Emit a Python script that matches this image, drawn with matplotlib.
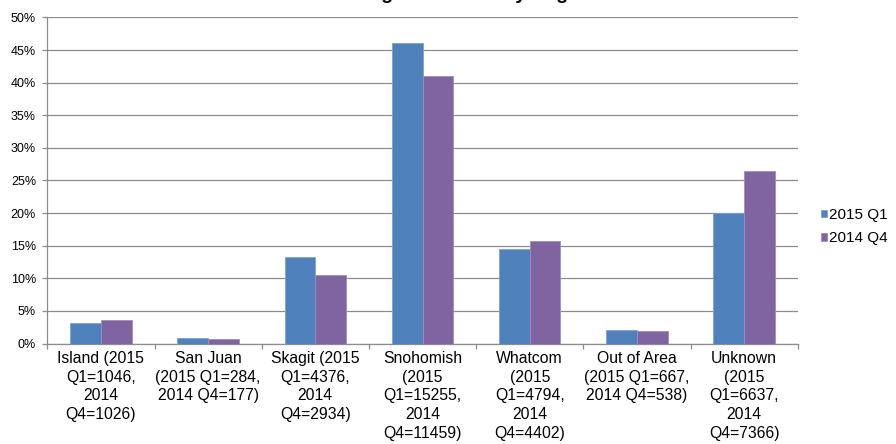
import matplotlib
matplotlib.use("Agg")
import matplotlib.pyplot as plt
import numpy as np
from matplotlib.ticker import FuncFormatter, MultipleLocator

plt.rcParams['font.family'] = ['Liberation Sans', 'DejaVu Sans']

title = "Percentage of Clients by Region"
categories = [
    "Island (2015\nQ1=1046,\n2014\nQ4=1026)",
    "San Juan\n(2015 Q1=284,\n2014 Q4=177)",
    "Skagit (2015\nQ1=4376,\n2014\nQ4=2934)",
    "Snohomish\n(2015\nQ1=15255,\n2014\nQ4=11459)",
    "Whatcom\n(2015\nQ1=4794,\n2014\nQ4=4402)",
    "Out of Area\n(2015 Q1=667,\n2014 Q4=538)",
    "Unknown\n(2015\nQ1=6637,\n2014\nQ4=7366)",
]
series_names = ["2015 Q1", "2014 Q4"]
q1_2015 = [3.16, 0.86, 13.24, 46.14, 14.50, 2.02, 20.08]
q4_2014 = [3.68, 0.63, 10.52, 41.07, 15.78, 1.93, 26.40]
colors = ["#4F81BD", "#8064A2"]

W, H = 896, 444
fig = plt.figure(figsize=(W / 100, H / 100), dpi=100)
ax = fig.add_axes([47.3 / W, 1 - 343.5 / H, (797.7 - 47.3) / W, (343.5 - 17.5) / H])

x = np.arange(len(categories))
bw = 0.286
ax.bar(x - bw / 2, q1_2015, width=bw, color=colors[0], edgecolor="#7FA3D3", linewidth=0.6,
       label=series_names[0], zorder=3)
ax.bar(x + bw / 2, q4_2014, width=bw, color=colors[1], edgecolor="#A08BC0", linewidth=0.6,
       label=series_names[1], zorder=3)

ax.set_xlim(-0.5, len(categories) - 0.5)
ax.set_ylim(0, 50)
ax.yaxis.set_major_locator(MultipleLocator(5))
ax.yaxis.set_major_formatter(FuncFormatter(lambda v, p: f"{v:.0f}%"))
ax.grid(axis="y", color="#8c8c8c", linewidth=0.9, zorder=0)
ax.set_axisbelow(True)

for s in ["top", "right"]:
    ax.spines[s].set_visible(False)
for s in ["left", "bottom"]:
    ax.spines[s].set_color("#8c8c8c")
    ax.spines[s].set_linewidth(0.9)

ax.set_xticks(x)
ax.set_xticklabels(categories, fontsize=11.3, linespacing=1.3)
ax.tick_params(axis="x", length=0, pad=5.5)
ax.set_xticks(np.arange(-0.5, len(categories)), minor=True)
ax.tick_params(axis="x", which="minor", length=3.5, color="#8c8c8c", width=0.9)
ax.tick_params(axis="y", length=3.6, color="#8c8c8c", width=0.9, labelsize=9, pad=4.5)

fig.text(0.5, 1.003, title, ha="center", va="baseline", fontsize=14, fontweight="bold")

leg = fig.legend(loc="upper left", bbox_to_anchor=(821 / W, 1 - 208 / H), frameon=False,
                 fontsize=11, handlelength=0.4, handleheight=0.4, handletextpad=0.15,
                 labelspacing=0.62, borderaxespad=0, borderpad=0)

fig.savefig("out.png", dpi=100)
